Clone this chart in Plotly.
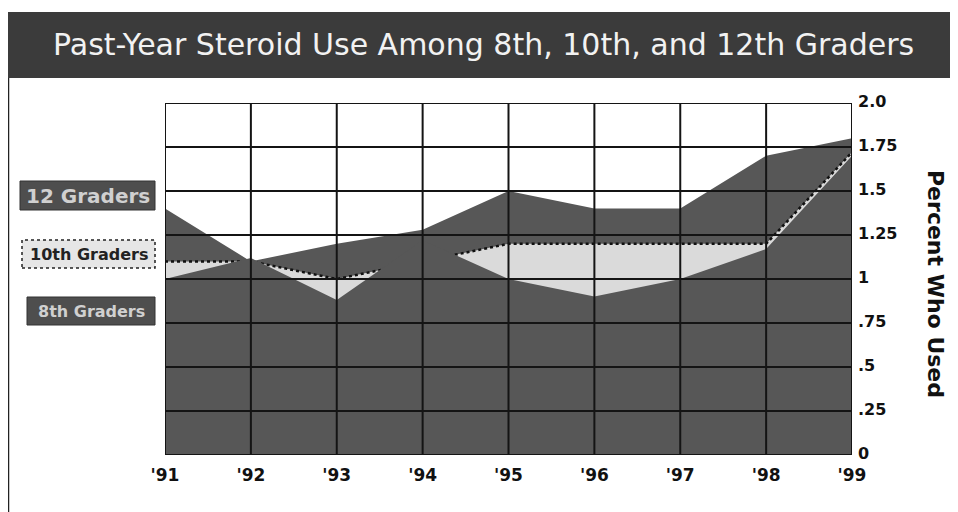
import plotly.graph_objects as go

years = [1991, 1992, 1993, 1994, 1995, 1996, 1997, 1998, 1999]
year_labels = ["'91", "'92", "'93", "'94", "'95", "'96", "'97", "'98", "'99"]
grade12 = [1.4, 1.1, 1.2, 1.28, 1.5, 1.4, 1.4, 1.7, 1.8]
grade10 = [1.1, 1.1, 1.0, 1.1, 1.2, 1.2, 1.2, 1.2, 1.72]
grade8 = [1.0, 1.12, 0.88, 1.22, 1.0, 0.9, 1.0, 1.17, 1.7]
y_ticks = [0, 0.25, 0.5, 0.75, 1, 1.25, 1.5, 1.75, 2.0]
y_tick_labels = ["0", ".25", ".5", ".75", "1", "1.25", "1.5", "1.75", "2.0"]

DARK = "#575757"
LIGHT = "#dadada"
FONT = "Liberation Sans, Arial, sans-serif"
WIDE = "DejaVu Sans, Verdana, sans-serif"

fig = go.Figure()
fig.add_trace(go.Scatter(x=years, y=grade12, mode="lines", fill="tozeroy",
                         fillcolor=DARK, line=dict(width=0, color=DARK),
                         name="12 Graders", hoverinfo="x+y"))
fig.add_trace(go.Scatter(x=years, y=grade10, mode="lines", fill="tozeroy",
                         fillcolor=LIGHT, line=dict(width=2.5, color="#111111", dash="dot"),
                         name="10th Graders", hoverinfo="x+y"))
fig.add_trace(go.Scatter(x=years, y=grade8, mode="lines", fill="tozeroy",
                         fillcolor=DARK, line=dict(width=0, color=DARK),
                         name="8th Graders", hoverinfo="x+y"))

shapes = []
# grid lines drawn above the areas
for yr in years:
    shapes.append(dict(type="line", xref="x", yref="paper", x0=yr, x1=yr, y0=0, y1=1,
                       line=dict(color="#141414", width=2), layer="above"))
for v in y_ticks:
    shapes.append(dict(type="line", xref="paper", yref="y", x0=0, x1=1, y0=v, y1=v,
                       line=dict(color="#141414", width=2), layer="above"))

# helpers: screen pixel -> paper coordinate (plot area spans 165..852, 103..455 on screen)
def px_x(p):
    return (p - 165) / 687.0

def px_y(p):
    return (455 - p) / 352.0

# title bar
shapes.append(dict(type="rect", xref="paper", yref="paper",
                   x0=px_x(8), x1=px_x(962), y0=px_y(78), y1=px_y(12),
                   fillcolor="#3b3b3b", line=dict(width=0), layer="above"))
# left frame line
shapes.append(dict(type="line", xref="paper", yref="paper",
                   x0=px_x(8.5), x1=px_x(8.5), y0=px_y(78), y1=px_y(516),
                   line=dict(color="#222222", width=1.5), layer="above"))
# legend boxes
shapes.append(dict(type="rect", xref="paper", yref="paper",
                   x0=px_x(20), x1=px_x(155), y0=px_y(210), y1=px_y(181),
                   fillcolor="#4e4e4e", line=dict(color="#333333", width=1), layer="above"))
shapes.append(dict(type="rect", xref="paper", yref="paper",
                   x0=px_x(22), x1=px_x(155), y0=px_y(268), y1=px_y(240),
                   fillcolor="#e6e6e6", line=dict(color="#222222", width=1.5, dash="dot"),
                   layer="above"))
shapes.append(dict(type="rect", xref="paper", yref="paper",
                   x0=px_x(27), x1=px_x(155), y0=px_y(325), y1=px_y(297),
                   fillcolor="#4e4e4e", line=dict(color="#333333", width=1), layer="above"))

annotations = [
    dict(text="Past-Year Steroid Use Among 8th, 10th, and 12th Graders",
         xref="paper", yref="paper", x=px_x(483), y=px_y(45), showarrow=False,
         font=dict(family=WIDE, size=30, color="#f2f2f2"), xanchor="center", yanchor="middle"),
    dict(text="<b>12 Graders</b>", xref="paper", yref="paper", x=px_x(88), y=px_y(196),
         showarrow=False, font=dict(family=WIDE, size=20, color="#d0d0d0"),
         xanchor="center", yanchor="middle"),
    dict(text="<b>10th Graders</b>", xref="paper", yref="paper", x=px_x(89), y=px_y(254),
         showarrow=False, font=dict(family=WIDE, size=16, color="#222222"),
         xanchor="center", yanchor="middle"),
    dict(text="<b>8th Graders</b>", xref="paper", yref="paper", x=px_x(91), y=px_y(311),
         showarrow=False, font=dict(family=WIDE, size=16, color="#d0d0d0"),
         xanchor="center", yanchor="middle"),
    dict(text="<b>Percent Who Used</b>", xref="paper", yref="paper", x=px_x(936), y=px_y(284),
         showarrow=False, textangle=90, font=dict(family=WIDE, size=22, color="#111111"),
         xanchor="center", yanchor="middle"),
]

fig.update_layout(
    width=950, height=504,
    margin=dict(l=157, r=106, t=95, b=57),
    paper_bgcolor="white", plot_bgcolor="white",
    showlegend=False,
    font=dict(family=FONT, color="#111111"),
    xaxis=dict(range=[1991, 1999], tickmode="array", tickvals=years, ticktext=year_labels,
               showgrid=False, zeroline=False, showline=False, ticks="",
               ticklabelstandoff=8,
               tickfont=dict(size=17, family=WIDE, color="#111111", weight="bold")),
    yaxis=dict(range=[0, 2], side="right", tickmode="array", tickvals=y_ticks,
               ticktext=y_tick_labels, showgrid=False, zeroline=False, showline=False,
               ticks="", ticklabelshift=-2, ticklabelstandoff=5,
               tickfont=dict(size=16, family=WIDE, color="#111111", weight="bold")),
    shapes=shapes,
    annotations=annotations,
)

fig.write_html("out.html")
